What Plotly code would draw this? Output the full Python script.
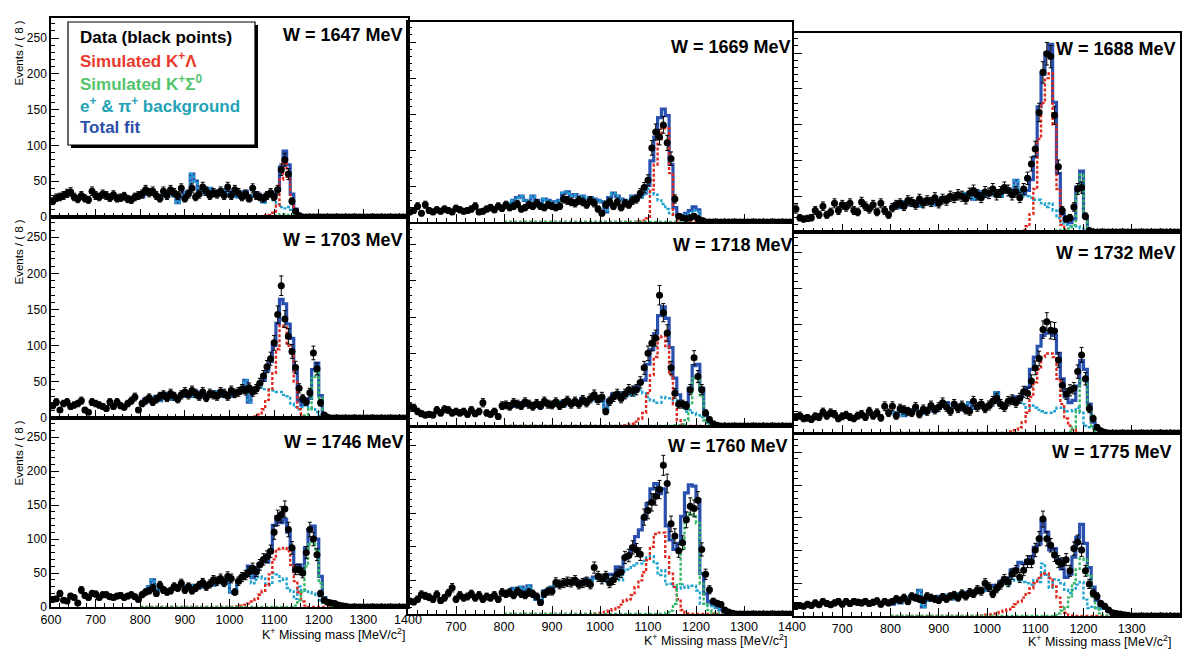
import numpy as np
import plotly.graph_objects as go

# ---------------- binning / ranges ----------------
X_MIN, X_MAX, BIN = 600, 1400, 8
Y_MAX = 278
BG_START, LAM_START, SIG_START = 800, 984, 1104   # first bin edge of each component array
X_TICKS_FIRST_COL = [600, 700, 800, 900, 1000, 1100, 1200, 1300, 1400]
X_TICKS_OTHER_COLS = [700, 800, 900, 1000, 1100, 1200, 1300, 1400]

# ---------------- data (events per 8 MeV bin, 604..1396) ----------------
DATA_1647 = [22,27,28,30,33,35,28,25,30,26,24,36,30,
             28,32,30,27,31,26,27,29,25,24,28,30,
             32,38,34,36,30,26,36,30,38,34,30,40,26,
             32,40,28,32,42,36,30,34,32,36,30,42,
             30,38,34,28,32,26,40,30,28,26,30,34,28,
             38,66,80,60,22,8,2,0,0,0,0,0,
             0,0,0,0,0,0,0,0,0,0,0,0,0,
             0,0,0,0,0,0,0,0,0,0,0,0]
BG_1647 = [28,32,36,34,30,26,30,36,34,30,20,28,34,
           36,60,50,34,38,32,40,36,30,34,38,30,
           36,30,28,34,36,24,30,34,28,20,30,30,24,
           18,14,12,14,10,5,2,1,0,0,0,0,
           0,0,0,0,0,0,0,0,0,0,0,0,0]
LAM_1647 = [0,0,0,0,0,0,0,0,0,0,0,1,2,3,6,16,52,76,56,20,5,1,0,0,0,0,0]
SIG_1647 = [3,4,4,3,2,1,0,0,0,0,0,0,0,0,0,0,0,0,0,0,0,0,0]

DATA_1669 = [14,16,22,12,24,16,14,17,15,18,16,14,19,
             17,15,16,18,22,14,15,18,20,17,22,19,
             24,20,22,25,18,20,24,22,26,22,20,24,22,
             20,22,32,30,28,26,30,28,24,30,26,18,
             12,24,28,22,28,20,26,24,30,32,40,48,58,
             103,125,118,135,110,88,32,8,6,5,6,8,
             5,2,0,0,0,0,0,0,0,0,0,0,0,
             0,0,0,0,0,0,0,0,0,0,0,0]
BG_1669 = [24,26,30,34,36,30,28,36,30,26,32,30,28,
           28,30,40,42,36,38,34,36,30,34,32,30,
           28,14,34,40,36,32,30,28,36,32,34,38,46,
           40,38,30,25,18,12,10,8,8,10,12,16,
           14,3,0,0,0,0,0,0,0,0,0,0,0]
LAM_1669 = [0,0,0,0,0,0,0,0,0,0,0,0,1,2,5,45,80,115,132,130,68,10,2,0,0,0,0]
SIG_1669 = [0,0,0,0,0,0,0,0,0,2,4,5,3,1,0,0,0,0,0,0,0,0,0]

DATA_1688 = [32,20,18,19,20,30,24,36,24,28,40,30,38,
             35,40,30,28,42,36,32,38,28,40,30,24,
             34,38,40,36,44,42,38,46,40,44,42,48,40,
             46,44,50,48,52,50,46,54,58,52,48,56,
             54,60,52,56,62,58,52,56,48,60,75,95,116,
             167,223,249,245,163,91,30,18,20,35,60,62,
             22,2,0,0,0,0,0,0,0,0,0,0,0,
             0,0,0,0,0,0,0,0,0,0,0,0]
BG_1688 = [36,40,34,42,38,44,40,36,42,46,40,38,44,
           48,44,50,46,52,48,54,50,46,52,56,50,
           54,52,58,50,56,60,54,72,58,50,50,48,45,
           45,40,35,40,30,20,12,10,8,8,8,5,
           1,0,0,0,0,0,0,0,0,0,0,0,0]
LAM_1688 = [0,0,0,0,0,0,0,0,0,0,0,3,8,25,60,130,180,215,222,150,60,10,2,0,0,0,0]
SIG_1688 = [0,0,0,0,1,2,3,4,5,10,55,80,20,2,0,0,0,0,0,0,0,0,0]

DATA_1703 = [17,22,11,20,22,16,18,20,24,11,8,22,20,
             18,16,13,22,16,22,17,15,20,24,29,11,
             20,24,28,22,26,30,32,28,34,30,26,32,36,
             32,38,34,30,36,28,34,32,30,36,34,30,
             38,34,36,40,38,42,36,40,48,58,71,82,104,
             143,183,137,113,92,70,41,27,22,35,90,68,
             21,4,1,0,0,0,0,0,0,0,0,0,0,
             0,0,0,0,0,0,0,0,0,0,0,0]
BG_1703 = [18,26,28,22,30,24,28,34,26,30,28,32,30,
           34,30,36,28,34,32,30,34,36,30,32,34,
           30,36,34,38,52,22,40,40,42,40,40,38,38,
           36,36,32,30,20,15,12,15,18,15,12,8,
           3,1,0,0,0,0,0,0,0,0,0,0,0]
LAM_1703 = [0,0,0,0,0,0,0,0,0,2,5,12,25,40,62,95,128,126,100,90,50,12,2,0,0,0,0]
SIG_1703 = [0,0,0,0,0,0,0,1,4,12,55,68,28,4,0,0,0,0,0,0,0,0,0]

DATA_1718 = [27,25,20,17,15,16,15,22,18,23,22,18,20,
             18,20,16,22,17,20,32,18,16,20,13,28,
             29,27,32,30,28,33,30,27,31,28,34,30,29,
             33,28,31,35,30,34,30,36,32,38,43,36,
             40,20,34,40,44,38,44,50,48,50,60,80,100,
             114,121,180,156,128,80,45,30,30,28,50,94,
             68,50,18,9,3,1,0,0,0,0,0,0,0,
             0,0,0,0,0,0,0,0,0,0,0,0]
BG_1718 = [28,30,27,32,30,34,28,31,30,26,33,29,32,
           30,34,28,36,32,34,30,38,32,36,40,34,
           38,24,36,44,42,46,40,44,42,48,50,45,40,
           35,32,32,40,38,38,35,34,28,20,22,18,
           15,12,8,4,1,0,0,0,0,0,0,0,0]
LAM_1718 = [0,0,0,0,0,0,0,0,1,2,3,6,10,18,45,70,95,120,124,110,70,30,8,2,0,0,0]
SIG_1718 = [0,0,0,0,0,0,1,1,2,8,30,65,70,40,8,1,0,0,0,0,0,0,0]

DATA_1732 = [22,24,20,21,19,23,22,29,24,28,26,20,23,
             25,22,20,24,26,22,30,24,28,21,37,28,
             37,24,34,32,30,28,36,26,33,30,38,32,36,
             42,36,30,40,34,38,32,30,44,36,40,34,
             38,44,48,40,36,44,46,42,48,57,55,72,90,
             103,143,154,142,141,101,66,54,59,62,85,108,
             75,34,20,8,3,1,0,0,0,0,0,0,0,
             0,0,0,0,0,0,0,0,0,0,0,0]
BG_1732 = [28,26,30,24,32,28,34,30,27,32,36,30,34,
           38,42,34,40,36,32,38,42,34,36,40,38,
           36,42,56,40,36,42,44,46,42,40,35,38,35,
           32,30,28,28,30,35,35,30,30,32,35,28,
           10,8,9,4,1,0,0,0,0,0,0,0,0]
LAM_1732 = [0,0,0,0,0,0,0,0,2,4,8,15,28,50,70,88,105,110,110,105,75,40,20,10,5,0,0]
SIG_1732 = [0,0,0,0,0,0,0,0,2,8,30,72,78,32,6,1,0,0,0,0,0,0,0]

DATA_1746 = [11,12,20,10,9,16,14,6,25,17,14,20,19,
             14,18,18,15,14,16,17,14,16,18,15,11,
             18,22,24,28,20,32,25,22,24,30,28,35,25,
             30,24,28,32,36,30,34,40,38,42,36,45,
             42,22,38,44,47,52,57,52,62,70,74,82,110,
             131,136,144,114,87,55,55,50,80,114,100,77,
             20,10,7,6,5,3,2,1,0,0,0,0,0,
             0,0,0,0,0,0,0,0,0,0,0,0]
BG_1746 = [17,22,30,40,26,24,27,22,25,30,28,32,30,
           27,32,30,29,33,30,35,32,38,36,34,40,
           22,20,36,42,45,55,35,40,45,42,34,33,50,
           48,38,42,28,23,12,30,24,25,22,20,18,
           10,6,6,6,5,3,1,0,0,0,0,0,0]
LAM_1746 = [0,0,0,0,1,2,3,5,8,12,18,24,32,48,70,85,86,87,82,62,38,22,8,2,0,0,0]
SIG_1746 = [0,0,0,0,0,2,10,22,60,92,99,82,35,8,3,0,0,0,0,0,0,0,0]

DATA_1760 = [19,18,22,29,27,25,22,29,20,24,31,39,22,
             28,24,26,30,24,28,22,26,24,28,22,32,
             30,32,28,34,30,28,32,30,26,17,30,34,34,
             47,44,46,48,47,50,44,46,48,44,69,56,
             52,56,46,51,59,62,84,87,99,95,89,144,154,
             166,175,185,221,194,134,116,94,106,140,160,157,
             169,96,59,36,19,16,14,6,3,1,0,0,0,
             0,0,0,0,0,0,0,0,0,0,0,0]
BG_1760 = [30,34,38,32,40,36,42,30,22,20,34,36,40,
           42,46,44,48,46,50,44,48,52,50,54,52,
           50,48,54,52,60,50,64,66,72,75,75,79,84,
           86,75,58,65,44,45,41,38,44,39,42,42,
           35,15,15,12,12,9,6,3,1,0,0,0,0]
LAM_1760 = [1,1,2,3,5,7,10,14,20,22,28,40,50,62,80,100,119,121,121,85,60,40,22,6,1,0,0]
SIG_1760 = [0,0,0,0,2,5,15,45,95,140,150,148,135,45,15,6,2,1,0,0,0,0,0]

DATA_1775 = [15,16,15,18,16,20,17,22,19,17,20,22,18,
             22,19,22,21,20,22,19,21,23,18,22,20,
             22,26,24,28,22,30,28,26,24,30,28,26,24,
             29,26,30,32,28,34,30,36,34,40,38,50,
             44,34,42,48,56,52,64,69,59,70,83,83,101,
             118,148,118,108,93,83,80,86,69,103,113,101,
             69,49,35,30,19,15,9,5,4,3,2,1,0,
             0,0,0,0,0,0,0,0,0,0,0,0]
BG_1775 = [18,22,20,26,28,30,26,39,14,24,28,26,30,
           28,32,30,26,34,32,36,34,38,36,40,38,
           42,44,40,46,50,48,56,54,60,52,50,48,55,
           52,80,63,43,56,55,50,40,35,40,48,52,
           25,12,14,12,10,11,8,6,4,2,1,0,0]
LAM_1775 = [1,2,2,3,4,6,8,10,14,18,22,28,35,42,50,58,65,65,58,45,28,14,5,1,0,0,0]
SIG_1775 = [0,0,0,0,2,4,8,14,28,50,72,88,86,62,30,12,4,1,0,0,0,0,0]

W_VALUES = [1647, 1669, 1688, 1703, 1718, 1732, 1746, 1760, 1775]
DATA = [DATA_1647, DATA_1669, DATA_1688, DATA_1703, DATA_1718, DATA_1732, DATA_1746, DATA_1760, DATA_1775]
BG = [BG_1647, BG_1669, BG_1688, BG_1703, BG_1718, BG_1732, BG_1746, BG_1760, BG_1775]
LAM = [LAM_1647, LAM_1669, LAM_1688, LAM_1703, LAM_1718, LAM_1732, LAM_1746, LAM_1760, LAM_1775]
SIG = [SIG_1647, SIG_1669, SIG_1688, SIG_1703, SIG_1718, SIG_1732, SIG_1746, SIG_1760, SIG_1775]

# ---------------- layout geometry (pixels of the 1184x650 page) ----------------
W_PX, H_PX = 1184, 650
def fx(p): return p / W_PX
def fy(p): return 1 - p / H_PX

COL_X = [(51, 408), (408, 792), (794, 1180)]
ROW_Y = [  # per column: (top, bottom) for rows 0..2
    [(18, 217), (217, 418), (418, 607)],
    [(22, 222), (224, 426), (427, 614)],
    [(33, 232), (232, 433), (434, 616)],
]
W_POS = [(405, 35), (793, 47), (1178, 49),
         (405, 240), (795, 245), (1178, 253),
         (406, 442), (790, 446), (1174, 452)]
XTITLE_POS = [(407, 634), (789, 640), (1173, 641)]

C_DATA = "black"
C_TOT = "#2a50b0"
C_BG = "#1ea3cf"
C_LAM = "#e0291f"
C_SIG = "#35b864"
FONT = "Arial, Liberation Sans, sans-serif"

fig = go.Figure()
layout = dict(width=W_PX, height=H_PX, margin=dict(l=0, r=0, t=0, b=0, autoexpand=False),
              paper_bgcolor="white", plot_bgcolor="white", showlegend=False,
              font=dict(family=FONT, color="black"))
annotations = []
shapes = []

centers = X_MIN + BIN * (np.arange(len(DATA_1647)) + 0.5)

for i in range(9):
    row, col = divmod(i, 3)
    n = "" if i == 0 else str(i + 1)
    xref, yref = "x" + n, "y" + n
    d = np.array(DATA[i], float)
    bg = np.array(BG[i], float)
    nb = len(bg)
    lam = np.zeros(nb); o = (LAM_START - BG_START) // BIN; lam[o:o + len(LAM[i])] = LAM[i]
    sig = np.zeros(nb); o = (SIG_START - BG_START) // BIN; sig[o:o + len(SIG[i])] = SIG[i]
    tot = bg + lam + sig
    edges = BG_START + BIN * np.arange(nb + 1)

    def step(vals, color, width, dash):
        fig.add_trace(go.Scatter(x=edges, y=np.append(vals, vals[-1]), mode="lines",
                                 line=dict(color=color, width=width, dash=dash, shape="hv"),
                                 xaxis=xref, yaxis=yref, hoverinfo="skip"))

    step(tot, C_TOT, 3.2, "solid")
    step(bg, C_BG, 2.4, "3px,2px")
    step(lam, C_LAM, 2.4, "3px,2px")
    step(sig, C_SIG, 2.4, "3px,2px")
    fig.add_trace(go.Scatter(x=centers, y=d, mode="markers",
                             marker=dict(color=C_DATA, size=7),
                             error_y=dict(type="data", array=np.sqrt(d), color=C_DATA,
                                          thickness=1, width=2),
                             xaxis=xref, yaxis=yref, hoverinfo="skip"))

    x0, x1 = COL_X[col]
    top, bot = ROW_Y[col][row]
    layout["xaxis" + n] = dict(
        domain=[fx(x0), fx(x1)], range=[X_MIN, X_MAX], anchor=yref, automargin=False,
        showline=True, linecolor="black", linewidth=1.5, mirror=True,
        ticks="inside", ticklen=8, tickcolor="black",
        tickmode="array", tickvals=X_TICKS_FIRST_COL if col == 0 else X_TICKS_OTHER_COLS,
        minor=dict(ticks="inside", ticklen=4, tickcolor="black", dtick=20, tick0=0),
        showgrid=False, zeroline=False, showticklabels=(row == 2),
        tickfont=dict(size=12.5, family=FONT, color="black"))
    layout["yaxis" + n] = dict(
        domain=[fy(bot), fy(top)], range=[0, Y_MAX], anchor=xref, automargin=False,
        showline=True, linecolor="black", linewidth=1.5, mirror=True,
        ticks="inside", ticklen=8, tickcolor="black", dtick=50, tick0=0,
        minor=dict(ticks="inside", ticklen=4, tickcolor="black", dtick=10),
        showgrid=False, zeroline=False, showticklabels=(col == 0),
        tickfont=dict(size=12, family=FONT, color="black"))

    wx, wy = W_POS[i]
    annotations.append(dict(x=fx(wx), y=fy(wy), xref="paper", yref="paper",
                            xanchor="right", yanchor="middle", showarrow=False,
                            text=f"<b>W = {W_VALUES[i]} MeV</b>",
                            font=dict(size=18, family=FONT, color="black")))

    if row == 2:
        tx, ty = XTITLE_POS[col]
        annotations.append(dict(x=fx(tx), y=fy(ty), xref="paper", yref="paper",
                                xanchor="right", yanchor="middle", showarrow=False,
                                text="K<sup>+</sup> Missing mass [MeV/c<sup>2</sup>]",
                                font=dict(size=12.5, family=FONT, color="black")))
    if col == 0:
        annotations.append(dict(x=fx(18), y=fy(top + 1), xref="paper", yref="paper",
                                xanchor="center", yanchor="top", showarrow=False,
                                textangle=-90, text="Events / ( 8 )",
                                font=dict(size=11.5, family=FONT, color="black")))

# ---------------- legend box ----------------
shapes.append(dict(type="rect", xref="paper", yref="paper", layer="above",
                   x0=fx(71), x1=fx(258), y0=fy(148), y1=fy(25),
                   fillcolor="black", line=dict(width=0)))
shapes.append(dict(type="rect", xref="paper", yref="paper", layer="above",
                   x0=fx(68), x1=fx(255), y0=fy(145), y1=fy(22),
                   fillcolor="white", line=dict(color="black", width=1.2)))
LEG = [("Data (black points)", "black"),
       ("Simulated K<sup>+</sup>Λ", "#e8392c"),
       ("Simulated K<sup>+</sup>Σ<sup>0</sup>", "#52c46c"),
       ("e<sup>+</sup> &amp; π<sup>+</sup> background", "#23a2b6"),
       ("Total fit", "#2b4ea8")]
for j, (txt, colr) in enumerate(LEG):
    annotations.append(dict(x=fx(78), y=fy(38 + 22.3 * j), xref="paper", yref="paper",
                            xanchor="left", yanchor="middle", showarrow=False,
                            text=f"<b>{txt}</b>", font=dict(size=17, family=FONT, color=colr)))

layout["annotations"] = annotations
layout["shapes"] = shapes
fig.update_layout(**layout)
fig.write_html("out.html")
